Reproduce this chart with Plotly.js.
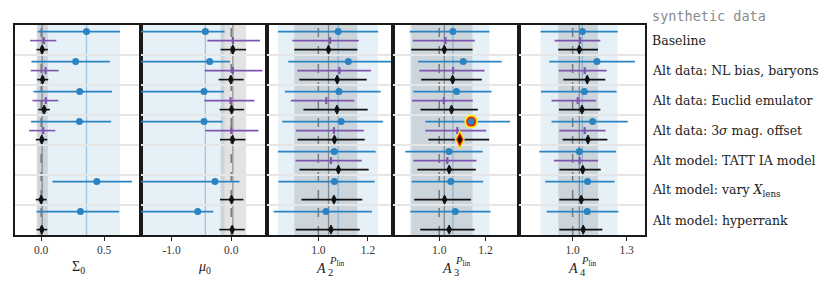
<!DOCTYPE html>
<html><head><meta charset="utf-8">
<script src="https://cdn.plot.ly/plotly-3.0.1.min.js"></script>
<style>html,body{margin:0;padding:0;background:#fff}</style>
</head><body><div id="chart" style="width:831px;height:287px"></div>
<script>
// ---- data ----
const rowLabels = ["Baseline","Alt data: NL bias, baryons","Alt data: Euclid emulator",
  "Alt data: 3<i>σ</i> mag. offset","Alt model: TATT IA model",
  "Alt model: vary <i>X</i><sub>lens</sub>","Alt model: hyperrank"];
const paramTitles = ["Σ0","μ0","A2","A3","A4"];
const truthValues = [0, 0, 1, 1, 1];
const xRanges = [[-0.208,0.793],[-1.512,0.6],[0.793,1.301],[0.8,1.345],[0.702,1.402]];
const tickVals = [[0,0.5],[-1,0],[1,1.2],[1,1.2],[1,1.3]];
const tickText = [["0.0","0.5"],["-1.0","0.0"],["1.0","1.2"],["1.0","1.2"],["1.0","1.3"]];

const blueMean = [
  [0.36,0.274,0.306,0.304,null,0.442,0.312],
  [-0.433,-0.361,-0.456,-0.456,null,-0.272,-0.561],
  [1.08,1.121,1.083,1.092,1.064,1.065,1.031],
  [1.059,1.104,1.075,1.138,1.042,1.05,1.069],
  [1.054,1.135,1.065,1.111,1.037,1.083,1.081]];
const blueLo = [
  [-0.027,-0.077,-0.061,-0.08,null,0.09,-0.037],
  [-1.75,-1.68,-1.79,-1.77,null,-1.6,-1.85],
  [0.837,0.879,0.865,0.855,0.837,0.839,0.82],
  [0.872,0.909,0.888,0.94,0.853,0.881,0.875],
  [0.822,0.87,0.824,0.883,0.815,0.848,0.856]];
const blueHi = [
  [0.626,0.546,0.562,0.556,null,0.722,0.62],
  [-0.111,-0.022,-0.122,-0.144,null,0.139,-0.3],
  [1.241,1.296,1.251,1.261,1.231,1.227,1.216],
  [1.217,1.27,1.226,1.306,1.188,1.19,1.222],
  [1.25,1.346,1.244,1.306,1.241,1.233,1.254]];

const purpleMean = [
  [0.021,0.035,0.037,0.016,null,null,null],
  [0.028,0.028,-0.011,0.0,null,null,null],
  [1.047,1.085,1.032,1.063,1.051,null,null],
  [1.027,1.06,1.02,1.078,1.035,null,null],
  [1.041,1.067,1.028,1.067,1.039,null,null]];
const purpleLo = [
  [-0.088,-0.083,-0.069,-0.096,null,null,null],
  [-0.4,-0.444,-0.45,-0.433,null,null,null],
  [0.895,0.915,0.889,0.909,0.908,null,null],
  [0.886,0.914,0.882,0.94,0.888,null,null],
  [0.9,0.922,0.883,0.926,0.896,null,null]];
const purpleHi = [
  [0.12,0.138,0.136,0.112,null,null,null],
  [0.483,0.522,0.389,0.456,null,null,null],
  [1.163,1.212,1.145,1.183,1.175,null,null],
  [1.154,1.196,1.145,1.203,1.161,null,null],
  [1.154,1.189,1.13,1.183,1.141,null,null]];

const blackMean = [
  [0.008,0.011,0.024,0.005,null,0.0,0.005],
  [0.028,-0.006,0.006,0.022,null,0.006,0.017],
  [1.041,1.076,1.075,1.065,1.081,1.063,1.051],
  [1.022,1.058,1.053,1.089,1.043,1.023,1.043],
  [1.037,1.081,1.052,1.085,1.056,1.048,1.059]];
const blackLo = [
  [-0.037,-0.032,-0.024,-0.043,null,-0.043,-0.037],
  [-0.178,-0.211,-0.194,-0.189,null,-0.189,-0.2],
  [0.903,0.923,0.94,0.916,0.924,0.932,0.909],
  [0.879,0.922,0.919,0.953,0.905,0.892,0.918],
  [0.92,0.948,0.924,0.944,0.926,0.926,0.926]];
const blackHi = [
  [0.053,0.056,0.069,0.048,null,0.043,0.048],
  [0.25,0.211,0.217,0.239,null,0.206,0.228],
  [1.157,1.195,1.199,1.187,1.203,1.177,1.167],
  [1.144,1.184,1.167,1.216,1.158,1.137,1.153],
  [1.141,1.181,1.154,1.193,1.156,1.146,1.165]];

// highlighted point (panel, row)
const highlightPanel = 3, highlightRow = 3;

// ---- styling ----
const BLUE = '#2b83c1', PURPLE = '#7d55ae', BLACK = '#111';
const SERIF = 'Liberation Serif, DejaVu Serif, serif';
const LABELFONT = 'DejaVu Serif, Liberation Serif, serif';
const offsets = {blue: 0.22, purple: 0.52, black: 0.82};

const traces = [], shapes = [], annotations = [];
const layout = {
  width: 831, height: 287, showlegend: false,
  margin: {l: 15, r: 186, t: 25, b: 52},
  paper_bgcolor: '#fff', plot_bgcolor: 'rgba(0,0,0,0)',
  font: {family: SERIF, size: 11, color: '#222'},
  shapes, annotations
};

function series(p, mean, lo, hi, off, color, marker, name) {
  const xs = [], ys = [], ep = [], em = [];
  mean[p].forEach((m, r) => {
    if (m === null) return;
    xs.push(m); ys.push(r + off);
    ep.push(hi[p][r] - m); em.push(m - lo[p][r]);
  });
  const sfx = p === 0 ? '' : String(p + 1);
  return {type: 'scatter', mode: 'markers', x: xs, y: ys, xaxis: 'x' + sfx, yaxis: 'y' + sfx,
    name, marker, hoverinfo: 'skip',
    error_x: {type: 'data', symmetric: false, array: ep, arrayminus: em,
      color, thickness: 1.6, width: 0}};
}

for (let p = 0; p < 5; p++) {
  const sfx = p === 0 ? '' : String(p + 1);
  const xa = 'xaxis' + sfx, ya = 'yaxis' + sfx;
  layout[xa] = {
    domain: [p / 5, (p + 1) / 5], anchor: 'y' + sfx, range: xRanges[p],
    tickvals: tickVals[p], ticktext: tickText[p], ticks: 'outside', ticklen: 4,
    tickwidth: 1, tickcolor: '#222', showgrid: false, zeroline: false,
    showline: true, mirror: true, linecolor: '#1a1a1a', linewidth: 1.6,
    tickfont: {family: SERIF, size: 11.5, color: '#333'}
  };
  layout[ya] = {
    domain: [0, 1], anchor: 'x' + sfx, range: [7, 0],
    tickvals: [1, 2, 3, 4, 5, 6], showticklabels: false, ticks: '',
    showgrid: true, gridcolor: '#e6e6e6', gridwidth: 1.2, zeroline: false,
    showline: true, mirror: true, linecolor: '#1a1a1a', linewidth: 1.6
  };
  const xr = 'x' + sfx, yr = 'y' + sfx + ' domain';
  // bands from the Baseline row
  shapes.push({type: 'rect', layer: 'below', xref: xr, yref: yr, x0: blueLo[p][0], x1: blueHi[p][0], y0: 0, y1: 1,
    fillcolor: 'rgba(31,119,180,0.11)', line: {width: 0}});
  shapes.push({type: 'rect', layer: 'below', xref: xr, yref: yr, x0: blackLo[p][0], x1: blackHi[p][0], y0: 0, y1: 1,
    fillcolor: 'rgba(0,0,0,0.11)', line: {width: 0}});
  shapes.push({type: 'line', layer: 'below', xref: xr, yref: yr, x0: blueMean[p][0], x1: blueMean[p][0], y0: 0, y1: 1,
    line: {color: 'rgba(31,119,180,0.35)', width: 1.3}});
  shapes.push({type: 'line', layer: 'below', xref: xr, yref: yr, x0: blackMean[p][0], x1: blackMean[p][0], y0: 0, y1: 1,
    line: {color: 'rgba(0,0,0,0.35)', width: 1.3}});
  shapes.push({type: 'line', layer: 'below', xref: xr, yref: yr, x0: truthValues[p], x1: truthValues[p], y0: 0, y1: 1,
    line: {color: '#7a7a7a', width: 1.5, dash: 'dash'}});

  traces.push(series(p, blueMean, blueLo, blueHi, offsets.blue, BLUE,
    {symbol: 'circle', size: 7, color: BLUE}, 'blue'));
  traces.push(series(p, purpleMean, purpleLo, purpleHi, offsets.purple, PURPLE,
    {symbol: 'line-ns-open', size: 5, color: PURPLE, line: {color: PURPLE, width: 2.2}}, 'purple'));
  traces.push(series(p, blackMean, blackLo, blackHi, offsets.black, BLACK,
    {symbol: 'diamond-tall', size: 6.5, color: BLACK, line: {color: BLACK, width: 1}}, 'black'));

  if (p === highlightPanel) {
    const r = highlightRow;
    const base = {type: 'scatter', mode: 'markers', xaxis: 'x' + sfx, yaxis: 'y' + sfx, hoverinfo: 'skip'};
    const hl = (x, y, symbol, size, color) => traces.push(Object.assign({}, base,
      {x: [x], y: [y], marker: {symbol, size, color, line: {width: 0}}}));
    hl(blueMean[p][r], r + offsets.blue, 'circle', 13.5, '#ffee00');
    hl(blueMean[p][r], r + offsets.blue, 'circle', 10, '#e8201a');
    hl(blueMean[p][r], r + offsets.blue, 'circle', 6.5, BLUE);
    hl(blackMean[p][r], r + offsets.black, 'diamond-tall', 14, '#ffee00');
    hl(blackMean[p][r], r + offsets.black, 'diamond-tall', 10.5, '#e8201a');
    hl(blackMean[p][r], r + offsets.black, 'diamond-tall', 6.5, BLACK);
  }
}

// axis titles (as annotations for exact placement)
const titleY = -32;
function ann(o) { annotations.push(Object.assign({showarrow: false, yref: 'paper', y: 0, yanchor: 'middle',
  font: {family: SERIF, size: 14, color: '#222'}}, o)); }
ann({xref: 'x domain', x: 0.5, yshift: titleY, text: 'Σ<sub>0</sub>'});
ann({xref: 'x2 domain', x: 0.5, yshift: titleY, text: '<i>μ</i><sub>0</sub>'});
[2, 3, 4].forEach(p => {
  const xr = 'x' + (p + 1) + ' domain';
  const idx = paramTitles[p].slice(1);
  ann({xref: xr, x: 0.5, xanchor: 'right', xshift: -2, yshift: titleY - 1, text: '<i>A</i>'});
  ann({xref: xr, x: 0.5, xanchor: 'left', xshift: -4, yshift: titleY - 5, text: idx,
    font: {family: SERIF, size: 10.5, color: '#222'}});
  ann({xref: xr, x: 0.5, xanchor: 'left', xshift: -3, yshift: titleY + 6, text: '<i>P</i><sub>lin</sub>',
    font: {family: SERIF, size: 10.5, color: '#222'}});
});

// row labels
rowLabels.forEach((t, r) => {
  annotations.push({xref: 'paper', x: 1, xanchor: 'left', xshift: 5, yref: 'y', y: r + 0.5, yanchor: 'middle',
    showarrow: false, text: t, align: 'left', font: {family: LABELFONT, size: 12.5, color: '#222'}});
});
annotations.push({xref: 'paper', x: 1, xanchor: 'left', xshift: 5, yref: 'paper', y: 1, yanchor: 'middle', yshift: 9,
  showarrow: false, text: 'synthetic data', font: {family: 'DejaVu Sans Mono, Liberation Mono, monospace', size: 13.5, color: '#8a8a8a'}});

Plotly.newPlot('chart', traces, layout, {staticPlot: true, displayModeBar: false});
</script></body></html>
